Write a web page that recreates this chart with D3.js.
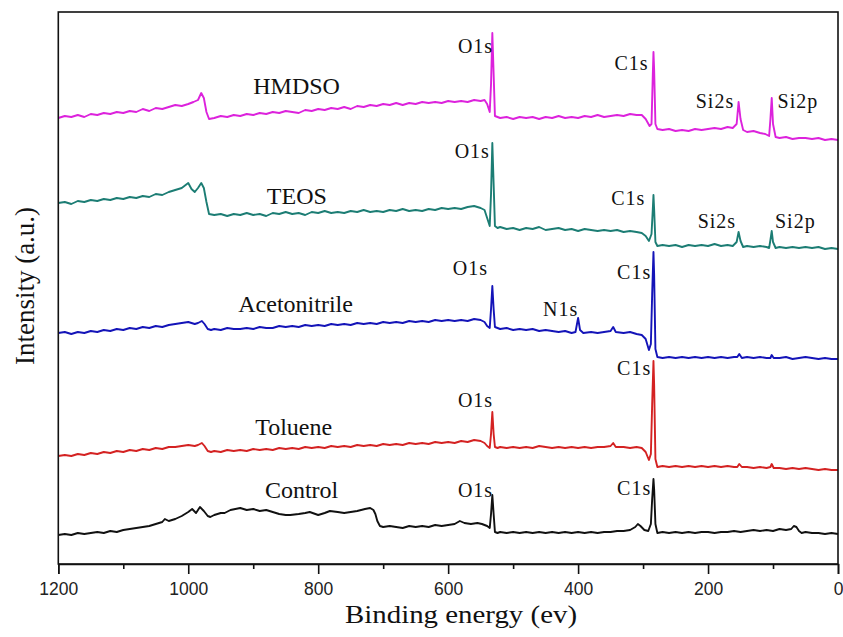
<!DOCTYPE html>
<html>
<head>
<meta charset="utf-8">
<script src="https://cdn.jsdelivr.net/npm/d3@7"></script>
<style>
  html, body { margin: 0; padding: 0; background: #fff; }
  svg { display: block; }
</style>
</head>
<body>
<svg id="chart" width="843" height="637"></svg>
<script>
// XPS survey spectra, stacked with vertical offsets: [binding energy (eV), intensity (a.u.)]
const hmdso = [
  [1200,446],[1190,448],[1180,447],[1170,449],[1160,447],[1150,450],[1140,449],[1130,451],[1120,450],[1110,452],
  [1100,451],[1090,453],[1080,452],[1070,455],[1060,453],[1050,456],[1040,455],[1030,457],[1020,459],[1010,458],
  [1000,460],[992,462],[985,464],[980,471],[976,466],[972,452],[968,445],[960,446],[950,448],[940,447],
  [930,449],[920,448],[910,450],[900,449],[890,451],[880,450],[870,452],[860,451],[850,453],[840,452],
  [830,451],[820,454],[810,453],[800,455],[790,454],[780,456],[770,455],[760,457],[750,455],[740,458],
  [730,457],[720,459],[710,458],[700,460],[690,459],[680,461],[670,459],[660,461],[650,460],[640,462],
  [630,461],[620,462],[610,461],[600,463],[590,462],[580,463],[570,462],[560,464],[550,463],[544,464],
  [540,460],[536,452],[534,480],[532,531],[530,490],[528,448],[524,447],[520,446],[510,447],[500,445],
  [490,447],[480,446],[470,447],[460,445],[450,447],[440,446],[430,448],[420,446],[410,447],[400,446],
  [390,448],[380,447],[370,449],[360,447],[350,448],[340,449],[330,448],[320,450],[310,449],[302,449],
  [296,445],[290,438],[287,440],[285,490],[284,512],[283,495],[281,440],[278,435],[270,434],[260,435],
  [250,433],[240,434],[230,433],[220,435],[210,434],[200,435],[190,436],[180,435],[170,437],[162,436],
  [156,440],[153,462],[150,445],[146,434],[140,432],[130,433],[120,431],[112,430],[106,428],[104,445],
  [102,466],[100,440],[96,427],[90,426],[80,427],[70,425],[60,426],[50,426],[40,425],[30,426],
  [20,424],[10,425],[0,424]
];

const teos = [
  [1200,361],[1190,362],[1180,360],[1170,363],[1160,362],[1150,364],[1140,363],[1130,365],[1120,364],[1110,366],
  [1100,365],[1090,367],[1080,366],[1070,368],[1060,367],[1050,370],[1040,369],[1030,372],[1020,374],[1010,376],
  [1004,379],[1000,381],[995,375],[990,372],[985,376],[980,381],[976,376],[972,362],[968,350],[960,349],
  [950,350],[940,348],[930,350],[920,349],[910,351],[900,349],[890,350],[880,348],[870,351],[860,350],
  [850,352],[840,350],[830,351],[820,349],[810,352],[800,351],[790,353],[780,351],[770,352],[760,351],
  [750,353],[740,352],[730,354],[720,352],[710,353],[700,352],[690,354],[680,353],[670,355],[660,353],
  [650,354],[640,353],[630,355],[620,354],[610,356],[600,355],[590,356],[580,355],[570,357],[560,358],
  [550,356],[544,354],[540,346],[536,338],[534,370],[532,421],[530,380],[528,338],[524,336],[520,337],
  [510,335],[500,336],[490,334],[480,336],[470,335],[460,337],[450,334],[440,335],[430,336],[420,334],
  [410,335],[400,333],[390,335],[380,334],[370,333],[360,334],[350,333],[340,334],[330,332],[320,333],
  [310,332],[302,331],[296,328],[291,323],[287,330],[285,355],[284,369],[283,355],[281,322],[278,318],
  [270,319],[260,318],[250,319],[240,317],[230,319],[220,318],[210,319],[200,318],[190,320],[180,318],
  [170,319],[162,318],[156,322],[153,332],[150,323],[146,317],[140,318],[130,317],[120,318],[110,317],
  [106,316],[104,324],[102,333],[100,322],[96,316],[90,317],[80,316],[70,317],[60,316],[50,317],
  [40,316],[30,317],[20,315],[10,316],[0,315]
];

const acetonitrile = [
  [1200,231],[1190,232],[1180,230],[1170,232],[1160,231],[1150,233],[1140,232],[1130,234],[1120,233],[1110,235],
  [1100,234],[1090,236],[1080,235],[1070,237],[1060,236],[1050,238],[1040,237],[1030,239],[1020,240],[1010,241],
  [1000,242],[990,240],[985,241],[979,243],[975,240],[970,235],[965,234],[960,235],[950,234],[940,236],
  [930,235],[920,235],[910,236],[900,235],[890,237],[880,236],[870,236],[860,238],[850,237],[840,238],
  [830,237],[820,239],[810,238],[800,239],[790,238],[780,240],[770,239],[760,240],[750,239],[740,241],
  [730,240],[720,241],[710,240],[700,242],[690,241],[680,242],[670,241],[660,243],[650,242],[640,243],
  [630,242],[620,244],[610,243],[600,244],[590,243],[580,244],[570,243],[560,245],[550,244],[544,242],
  [540,238],[536,236],[534,255],[532,278],[530,255],[528,237],[524,236],[520,235],[510,236],[500,234],
  [490,235],[480,234],[470,235],[460,233],[450,234],[440,233],[430,232],[420,233],[410,231],[404,232],
  [400,246],[397,234],[392,231],[380,232],[370,231],[360,232],[350,233],[346,237],[342,232],[330,231],
  [320,232],[310,230],[302,229],[296,225],[291,214],[288,220],[286,270],[284,312],[283,290],[281,215],
  [278,207],[270,206],[260,207],[250,206],[240,207],[230,206],[220,207],[210,206],[200,207],[190,206],
  [180,207],[170,206],[160,207],[155,207],[152,210],[148,206],[140,207],[130,206],[120,207],[110,206],
  [104,206],[102,209],[99,206],[90,206],[80,207],[70,205],[60,206],[50,207],[40,206],[30,205],
  [20,206],[10,205],[0,205]
];

const toluene = [
  [1200,108],[1190,109],[1180,108],[1170,110],[1160,109],[1150,111],[1140,110],[1130,112],[1120,111],[1110,113],
  [1100,112],[1090,114],[1080,113],[1070,115],[1060,114],[1050,116],[1040,115],[1030,117],[1020,117],[1010,118],
  [1000,119],[990,118],[985,119],[979,121],[975,118],[970,113],[965,112],[960,113],[950,112],[940,114],
  [930,113],[920,114],[910,113],[900,115],[890,114],[880,115],[870,114],[860,116],[850,115],[840,116],
  [830,115],[820,117],[810,116],[800,117],[790,116],[780,118],[770,117],[760,118],[750,117],[740,119],
  [730,118],[720,119],[710,118],[700,120],[690,119],[680,120],[670,119],[660,121],[650,120],[640,121],
  [630,120],[620,122],[610,121],[600,122],[590,121],[580,123],[570,122],[560,124],[550,123],[544,121],
  [540,118],[536,116],[534,130],[532,152],[530,130],[528,117],[524,116],[520,117],[510,116],[500,117],
  [490,116],[480,117],[470,116],[460,118],[450,117],[440,116],[430,117],[420,116],[410,117],[400,116],
  [390,117],[380,116],[370,117],[360,117],[350,118],[346,121],[342,117],[330,117],[320,116],[310,117],
  [302,116],[296,112],[291,104],[288,110],[286,160],[284,203],[283,180],[281,105],[278,97],[270,98],
  [260,97],[250,98],[240,97],[230,98],[220,97],[210,98],[200,97],[190,98],[180,97],[170,98],
  [160,97],[155,97],[152,100],[148,97],[140,97],[130,96],[120,97],[110,96],[104,97],[102,100],
  [99,96],[90,96],[80,95],[70,96],[60,95],[50,96],[40,95],[30,94],[20,95],[10,94],[0,94]
];

const control = [
  [1200,29],[1190,30],[1180,29],[1170,31],[1160,30],[1150,31],[1140,32],[1130,31],[1120,33],[1110,32],
  [1100,34],[1090,35],[1080,36],[1070,37],[1060,38],[1050,40],[1040,42],[1036,45],[1030,43],[1020,45],
  [1010,48],[1005,50],[1000,52],[994,55],[988,51],[982,57],[976,53],[970,48],[966,47],[960,49],
  [950,51],[944,51],[935,54],[920,56],[910,54],[900,55],[890,53],[880,54],[870,52],[860,50],
  [850,49],[843,49],[830,50],[820,51],[813,52],[800,49],[790,51],[782,53],[770,52],[760,51],
  [750,52],[740,53],[728,55],[720,56],[715,54],[712,50],[709,43],[705,38],[700,37],[690,38],
  [680,37],[670,36],[660,38],[650,37],[640,38],[630,37],[620,39],[610,38],[600,39],[590,40],
  [582,43],[575,41],[565,40],[555,41],[548,40],[540,38],[536,36],[534,50],[532,69],[530,50],
  [528,32],[524,31],[520,32],[510,31],[500,32],[490,31],[480,32],[470,31],[460,32],[450,31],
  [440,32],[430,31],[420,32],[410,31],[400,32],[390,31],[380,32],[370,31],[360,32],[350,32],
  [340,33],[330,33],[320,34],[312,37],[308,40],[304,38],[298,34],[292,33],[288,40],[286,65],
  [284,85],[283,75],[281,40],[278,31],[270,32],[260,31],[250,32],[240,31],[230,32],[220,31],
  [210,32],[200,32],[190,31],[180,32],[170,32],[160,33],[150,32],[140,33],[130,34],[120,33],
  [110,34],[100,33],[90,35],[80,34],[72,35],[68,38],[64,37],[60,33],[56,31],[50,32],
  [40,31],[30,31],[20,30],[10,31],[0,30]
];

const seriesNames  = ["HMDSO", "TEOS", "Acetonitrile", "Toluene", "Control"];
const seriesColors = ["#dc22dc", "#1c7d74", "#1414b8", "#d42222", "#111111"];
const seriesData   = [hmdso, teos, acetonitrile, toluene, control];

// series name labels: [text, energy, intensity]
const nameLabels = [
  ["HMDSO", 900, 470], ["TEOS", 879, 360], ["Acetonitrile", 923, 252],
  ["Toluene", 897, 129], ["Control", 882, 66]
];

// core-level peak labels: [text, energy, intensity]
const peakLabels = [
  ["O1s", 585, 511], ["C1s", 344, 494], ["Si2s", 219, 456], ["Si2p", 93, 456],
  ["O1s", 590, 406], ["C1s", 349, 359], ["Si2s", 216, 336], ["Si2p", 97, 336],
  ["O1s", 593, 289], ["N1s", 454, 248], ["C1s", 340, 285],
  ["O1s", 585, 157], ["C1s", 340, 189],
  ["O1s", 585, 67],  ["C1s", 340, 69]
];

const majorTicks = [1200, 1000, 800, 600, 400, 200, 0];
const minorTicks = [1100, 900, 700, 500, 300, 100];

const margin = { left: 58.3, right: 838, top: 12, bottom: 564 };
const svg = d3.select("#chart");

const x = d3.scaleLinear().domain([1200, 0]).range([margin.left, margin.right]);
const y = d3.scaleLinear().domain([0, 552]).range([margin.bottom, margin.top]);

const line = d3.line()
  .x(d => x(d[0]))
  .y(d => y(d[1]))
  .curve(d3.curveLinear);

const plot = svg.append("g");
seriesData.forEach((data, i) => {
  plot.append("path")
    .datum(data)
    .attr("class", "spectrum " + seriesNames[i])
    .attr("fill", "none")
    .attr("stroke", seriesColors[i])
    .attr("stroke-width", 1.9)
    .attr("stroke-linejoin", "round")
    .attr("d", line);
});

// frame
svg.append("rect")
  .attr("x", margin.left).attr("y", margin.top)
  .attr("width", margin.right - margin.left)
  .attr("height", margin.bottom - margin.top)
  .attr("fill", "none").attr("stroke", "#111").attr("stroke-width", 1.6);

// bottom axis with major and minor ticks
const axis = svg.append("g").attr("transform", `translate(0,${margin.bottom})`)
  .call(d3.axisBottom(x).tickValues(majorTicks).tickSize(10).tickPadding(9)
    .tickFormat(d3.format("d")));
axis.select(".domain").attr("stroke", "#111").attr("stroke-width", 1.6);
axis.selectAll(".tick line").attr("stroke", "#111").attr("stroke-width", 1.6);
axis.selectAll(".tick text")
  .attr("font-family", "'Liberation Sans', Arial, sans-serif")
  .attr("font-size", "17.5px").attr("fill", "#222");

svg.append("g").attr("transform", `translate(0,${margin.bottom})`)
  .call(d3.axisBottom(x).tickValues(minorTicks).tickSize(5).tickFormat(""))
  .call(g => g.select(".domain").remove())
  .selectAll(".tick line").attr("stroke", "#111").attr("stroke-width", 1.6);

// axis titles
svg.append("text")
  .attr("x", 461).attr("y", 622.5)
  .attr("text-anchor", "middle")
  .attr("font-family", "'Liberation Serif', 'Times New Roman', serif")
  .attr("font-size", "26px").attr("fill", "#111")
  .attr("textLength", 232).attr("lengthAdjust", "spacingAndGlyphs")
  .text("Binding energy (ev)");

svg.append("text")
  .attr("transform", "translate(34,286) rotate(-90)")
  .attr("text-anchor", "middle")
  .attr("font-family", "'Liberation Serif', 'Times New Roman', serif")
  .attr("font-size", "27px").attr("fill", "#111")
  .text("Intensity (a.u.)");

// labels
svg.append("g").selectAll("text").data(nameLabels).join("text")
  .attr("x", d => x(d[1])).attr("y", d => y(d[2]))
  .attr("font-family", "'Liberation Serif', 'Times New Roman', serif")
  .attr("font-size", "24px").attr("fill", "#111")
  .text(d => d[0]);

svg.append("g").selectAll("text").data(peakLabels).join("text")
  .attr("x", d => x(d[1])).attr("y", d => y(d[2]))
  .attr("font-family", "'Liberation Serif', 'Times New Roman', serif")
  .attr("font-size", "20px").attr("letter-spacing", "1px").attr("fill", "#111")
  .text(d => d[0]);
</script>
</body>
</html>
